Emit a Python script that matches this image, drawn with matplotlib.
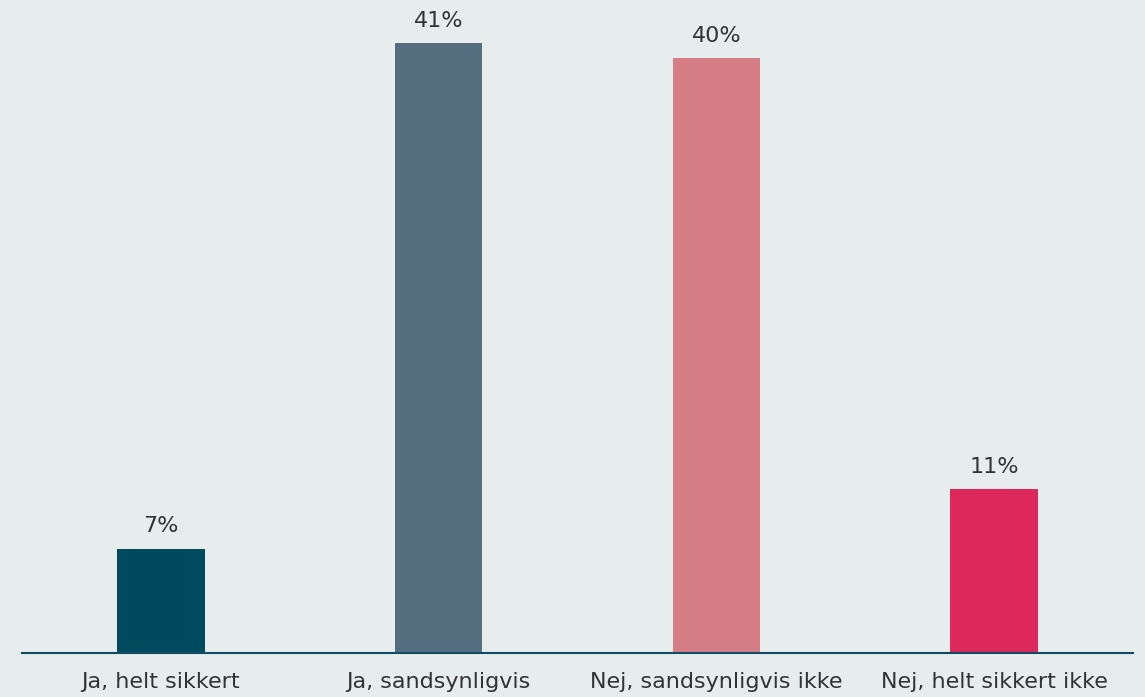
import matplotlib
matplotlib.use("Agg")
import matplotlib.pyplot as plt
import numpy as np

categories = ["Ja, helt sikkert", "Ja, sandsynligvis", "Nej, sandsynligvis ikke", "Nej, helt sikkert ikke"]
values = [7, 41, 40, 11]
colors = ["#004A5E", "#546E80", "#D57E85", "#DD285B"]

bg = "#E7EDED"
fig = plt.figure(figsize=(11.45, 6.97), dpi=100, facecolor=bg)
ax = fig.add_axes([22 / 1145, 1 - 653 / 697, 1111 / 1145, 653 / 697])
ax.set_facecolor(bg)

x = np.arange(len(categories))
ax.bar(x, values, width=0.315, color=colors, zorder=2)
for xi, v in zip(x, values):
    ax.annotate(f"{v}%", (xi, v), xytext=(0, 9), textcoords="offset points",
                ha="center", va="bottom", fontsize=16, color="#333333")

ax.set_xlim(-0.5, len(categories) - 0.5)
ax.set_ylim(0, 43.9)
ax.set_xticks(x)
ax.set_xticklabels(categories, fontsize=16, color="#333333")
ax.tick_params(axis="x", length=0, pad=14)
ax.set_yticks([])
for s in ["top", "right", "left"]:
    ax.spines[s].set_visible(False)
ax.spines["bottom"].set_color("#0F4C64")
ax.spines["bottom"].set_linewidth(1.5)

fig.savefig("out.png", dpi=100, facecolor=bg)
